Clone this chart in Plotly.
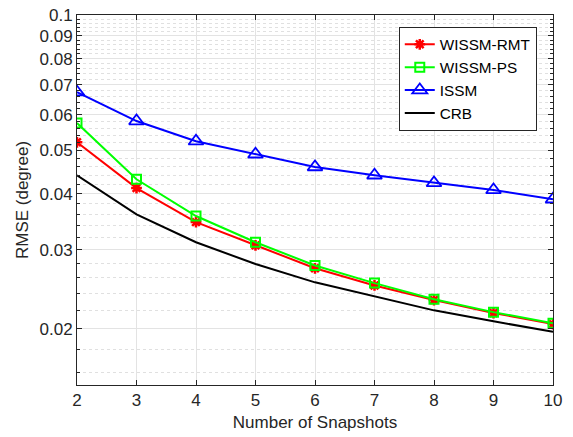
import plotly.graph_objects as go
import numpy as np

snapshots = [2, 3, 4, 5, 6, 7, 8, 9, 10]
wissm_rmt = [0.0521, 0.0412, 0.0346, 0.0307, 0.0273, 0.0250, 0.0232, 0.0217, 0.0205]
wissm_ps = [0.0575, 0.0431, 0.0357, 0.0312, 0.0277, 0.0253, 0.0233, 0.0218, 0.0206]
issm = [0.0674, 0.0581, 0.0524, 0.0490, 0.0459, 0.0440, 0.0423, 0.0408, 0.0389]
crb = [0.0440, 0.0360, 0.0312, 0.0279, 0.0254, 0.0236, 0.0220, 0.0208, 0.0197]

y_major = [0.02, 0.03, 0.04, 0.05, 0.06, 0.07, 0.08, 0.09, 0.1]
y_major_labels = ["0.02", "0.03", "0.04", "0.05", "0.06", "0.07", "0.08", "0.09", "0.1"]
y_minor = [0.016, 0.018, 0.022, 0.024, 0.026, 0.028, 0.032, 0.034, 0.036, 0.038,
           0.042, 0.044, 0.046, 0.048, 0.052, 0.054, 0.056, 0.058,
           0.062, 0.064, 0.066, 0.068, 0.072, 0.074, 0.076, 0.078,
           0.082, 0.084, 0.086, 0.088, 0.092, 0.094, 0.096, 0.098]

fig = go.Figure()
fig.add_trace(go.Scatter(x=snapshots, y=wissm_rmt, name="WISSM-RMT", mode="lines+markers",
                         line=dict(color="#FF0000", width=2),
                         marker=dict(symbol="asterisk-open", size=9, color="#FF0000",
                                     line=dict(color="#FF0000", width=2.5))))
fig.add_trace(go.Scatter(x=snapshots, y=wissm_ps, name="WISSM-PS", mode="lines+markers",
                         line=dict(color="#00FF00", width=2),
                         marker=dict(symbol="square-open", size=9, color="#00FF00",
                                     line=dict(color="#00FF00", width=2))))
fig.add_trace(go.Scatter(x=snapshots, y=issm, name="ISSM", mode="lines+markers",
                         line=dict(color="#0000FF", width=2),
                         marker=dict(symbol="triangle-up-open", size=13, color="#0000FF",
                                     line=dict(color="#0000FF", width=1.8))))
fig.add_trace(go.Scatter(x=snapshots, y=crb, name="CRB", mode="lines",
                         line=dict(color="#000000", width=2)))

axis_color = "#262626"
fig.update_layout(
    width=573, height=437,
    margin=dict(l=77, r=20, t=15, b=52, autoexpand=False),
    paper_bgcolor="white", plot_bgcolor="white",
    font=dict(family="Liberation Sans, Arial, sans-serif", size=17, color=axis_color),
    showlegend=True,
    legend=dict(x=0.676, y=0.968, xanchor="left", yanchor="top",
                bgcolor="white", bordercolor=axis_color, borderwidth=1,
                font=dict(size=15.3, color="#000000"),
                tracegroupgap=0, itemwidth=30),
    xaxis=dict(range=[2, 10], tickmode="array", tickvals=snapshots,
               ticktext=[str(s) for s in snapshots],
               ticks="inside", ticklen=5, tickcolor=axis_color,
               ticklabeloverflow="allow", automargin=False,
               showline=True, linecolor=axis_color, linewidth=1, mirror="ticks",
               showgrid=True, gridcolor="#E3E3E3", gridwidth=1, zeroline=False,
               title=dict(text="Number of Snapshots", standoff=6,
                          font=dict(size=17))),
    yaxis=dict(type="log", range=[np.log10(0.015), np.log10(0.1) + 0.0005],
               tickmode="array", tickvals=y_major, ticktext=y_major_labels,
               ticks="inside", ticklen=5, tickcolor=axis_color,
               ticklabeloverflow="allow", automargin=False,
               showline=True, linecolor=axis_color, linewidth=1, mirror="ticks",
               showgrid=True, gridcolor="#E3E3E3", gridwidth=1, zeroline=False,
               minor=dict(tickmode="array", tickvals=y_minor, ticks="inside", ticklen=3,
                          tickcolor=axis_color, showgrid=True, gridcolor="#E0E0E0",
                          griddash="dot", gridwidth=1),
               title=dict(text="RMSE (degree)", standoff=6,
                          font=dict(size=17))),
)

fig.write_html("out.html",
               config={"displayModeBar": False},
               post_script="document.body.style.margin='0';document.body.style.padding='0';")
